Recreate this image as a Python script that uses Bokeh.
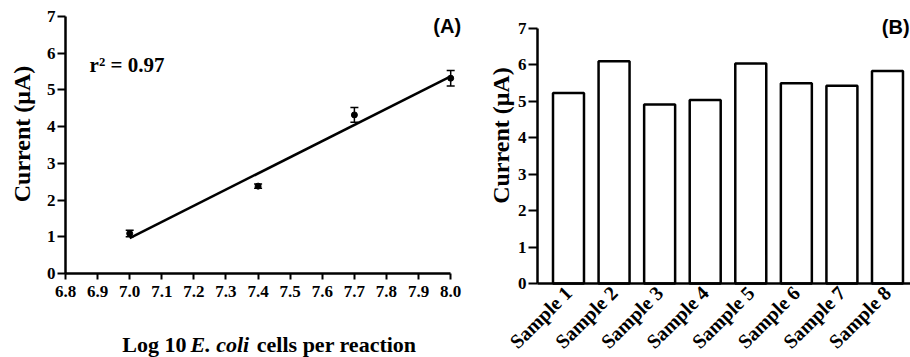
import numpy as np
from math import pi
from bokeh.plotting import figure
from bokeh.layouts import row
from bokeh.models import (ColumnDataSource, Whisker, TeeHead, Label, Range1d,
                          FixedTicker, PrintfTickFormatter)
from bokeh.embed import file_html
from bokeh.resources import INLINE

# ---- data (panel A) ----
log_cells = [7.0, 7.4, 7.7, 8.0]
current_a = [1.09, 2.38, 4.32, 5.32]
error_a = [0.09, 0.06, 0.20, 0.21]
x_ticks_a = [6.8, 6.9, 7.0, 7.1, 7.2, 7.3, 7.4, 7.5, 7.6, 7.7, 7.8, 7.9, 8.0]
y_ticks = [0, 1, 2, 3, 4, 5, 6, 7]
r2_text = "r\u00b2 = 0.97"

# ---- data (panel B) ----
samples = ["Sample 1", "Sample 2", "Sample 3", "Sample 4",
           "Sample 5", "Sample 6", "Sample 7", "Sample 8"]
current_b = [5.23, 6.10, 4.91, 5.04, 6.04, 5.50, 5.43, 5.83]

SERIF = "Liberation Serif"
SANS = "Liberation Sans"


def style_axes(p, tick_size):
    for ax in (p.xaxis[0], p.yaxis[0]):
        ax.axis_line_width = 2.5
        ax.axis_line_color = "black"
        ax.major_tick_line_width = 2
        ax.major_tick_line_color = "black"
        ax.major_tick_in = 0
        ax.minor_tick_line_color = None
        ax.major_label_text_font = SERIF
        ax.major_label_text_font_style = "bold"
        ax.major_label_text_font_size = tick_size
        ax.major_label_text_color = "black"
    p.xgrid.grid_line_color = None
    p.ygrid.grid_line_color = None
    p.outline_line_color = None


def lab(p, x, y, text, size="22px", font=SERIF, style="bold", **kw):
    p.add_layout(Label(x=x, y=y, text=text, text_font=font, text_font_style=style,
                       text_font_size=size, text_color="black", **kw))


# ================= Panel A =================
pA = figure(width=470, height=357, output_backend="svg", toolbar_location=None,
            x_range=Range1d(6.5975, 8.0617), y_range=Range1d(-2.288, 7.4366),
            min_border=0)
style_axes(pA, "17px")
pA.xaxis.fixed_location = 0
pA.yaxis.fixed_location = 6.8
pA.xaxis.bounds = (6.8, 8.0)
pA.yaxis.bounds = (0, 7)
pA.xaxis.ticker = FixedTicker(ticks=x_ticks_a)
pA.xaxis.formatter = PrintfTickFormatter(format="%.1f")
pA.yaxis.ticker = FixedTicker(ticks=y_ticks)
pA.xaxis.major_tick_out = 6
pA.yaxis.major_tick_out = 8
pA.xaxis.major_label_standoff = 6
pA.yaxis.major_label_standoff = 2

# regression line fitted from the data
slope, intercept = np.polyfit(log_cells, current_a, 1)
fit_x = [min(log_cells), max(log_cells)]
fit_y = [slope * v + intercept for v in fit_x]
pA.line(fit_x, fit_y, line_color="black", line_width=2.5)

srcA = ColumnDataSource(dict(
    x=log_cells, y=current_a,
    upper=[c + e for c, e in zip(current_a, error_a)],
    lower=[c - e for c, e in zip(current_a, error_a)]))
pA.add_layout(Whisker(base="x", upper="upper", lower="lower", source=srcA,
                      line_color="black", line_width=1.5,
                      upper_head=TeeHead(size=8, line_width=1.5, line_color="black"),
                      lower_head=TeeHead(size=8, line_width=1.5, line_color="black")))
pA.scatter("x", "y", source=srcA, size=6, color="black")

lab(pA, 6.875, 5.67, r2_text, size="21px", text_baseline="middle")
lab(pA, 7.946, 6.73, "(A)", size="20px", font=SANS, text_baseline="middle")
lab(pA, 6.6645, 3.80, "Current (\u03bcA)", size="24px", angle=pi / 2,
    text_align="center", text_baseline="middle")
lab(pA, 7.177, -1.93, "Log 10", text_align="right", text_baseline="alphabetic")
lab(pA, 7.1894, -1.93, "E. coli", style="bold italic",
    text_align="left", text_baseline="alphabetic")
lab(pA, 7.396, -1.93, "cells per reaction",
    text_align="left", text_baseline="alphabetic")

# ================= Panel B =================
xpos = list(range(1, len(samples) + 1))
pB = figure(width=440, height=357, output_backend="svg", toolbar_location=None,
            x_range=Range1d(-1.1505, 8.505), y_range=Range1d(-2.031, 7.768),
            min_border=0)
style_axes(pB, "17px")
pB.xaxis.fixed_location = 0
pB.yaxis.fixed_location = 0.32
pB.xaxis.bounds = (0.32, 8.505)
pB.yaxis.bounds = (0, 7)
pB.yaxis.ticker = FixedTicker(ticks=y_ticks)
pB.yaxis.major_tick_out = 9
pB.yaxis.major_label_standoff = 2
pB.xaxis.ticker = FixedTicker(ticks=xpos)
pB.xaxis.major_label_overrides = {i: s for i, s in zip(xpos, samples)}
pB.xaxis.major_label_orientation = pi / 4
pB.xaxis.major_tick_out = 0
pB.xaxis.major_label_standoff = 6
pB.xaxis.major_label_text_font_size = "20px"

pB.vbar(x=xpos, top=current_b, width=0.68, bottom=0, fill_color="white",
        line_color="black", line_width=2.5)

lab(pB, -0.492, 4.06, "Current (\u03bcA)", size="24px", angle=pi / 2,
    text_align="center", text_baseline="middle")
lab(pB, 8.485, 7.05, "(B)", size="20px", font=SANS,
    text_align="right", text_baseline="middle")

layout = row(pA, pB)
open("out.html", "w").write(file_html(layout, INLINE))
